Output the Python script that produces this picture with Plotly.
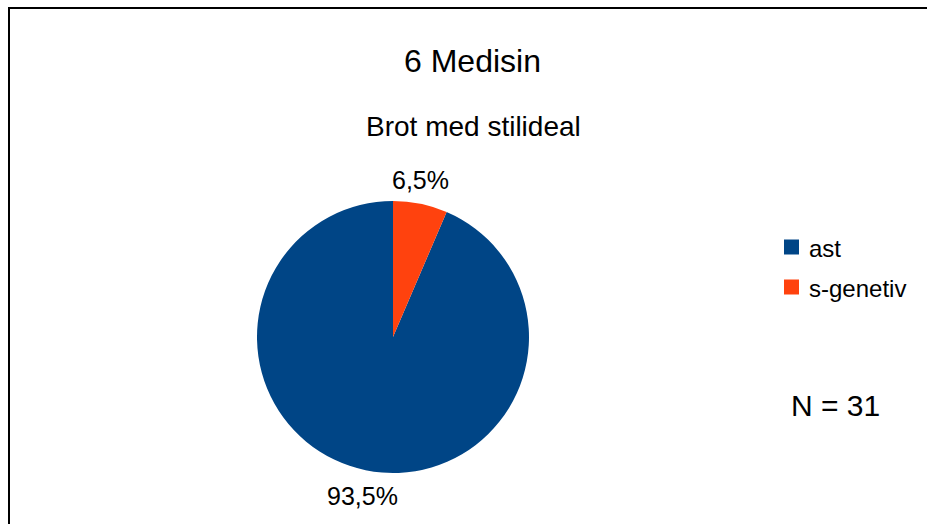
import math
import plotly.graph_objects as go

# Data
categories = ["ast", "s-genetiv"]
counts = [29, 2]
colors = ["#004586", "#ff420e"]
title_text = "6 Medisin"
subtitle_text = "Brot med stilideal"
n_text = "N = 31"

total = sum(counts)
pct_text = [f"{c / total * 100:.1f}".replace(".", ",") + "%" for c in counts]

W, H = 927, 524
FONT = "Liberation Sans, Arial, sans-serif"

# Pie geometry in pixels
CX, CY, R = 393, 337, 136

def px_x(x):
    return x / W

def px_y(y):
    return 1 - y / H

start_angle = 360 * counts[1] / total  # slice order starts clockwise from this angle (deg from 12 o'clock)

fig = go.Figure(
    go.Pie(
        labels=categories,
        values=counts,
        textinfo="none",
        marker=dict(colors=colors, line=dict(width=0)),
        sort=False,
        direction="clockwise",
        rotation=start_angle,
        hoverinfo="label+percent",
        showlegend=False,
        domain=dict(x=[px_x(CX - R), px_x(CX + R)], y=[px_y(CY + R), px_y(CY - R)]),
    )
)

annotations = [
    dict(text=title_text, x=px_x(472), y=px_y(61), font=dict(family=FONT, size=32)),
    dict(text=subtitle_text, x=px_x(473), y=px_y(126), font=dict(family=FONT, size=28)),
    dict(text=n_text, x=px_x(835), y=px_y(405), font=dict(family=FONT, size=30)),
]

# Percentage labels outside each slice, at the slice's mid-angle
angle = start_angle
for c, t in zip(counts, pct_text):
    sweep = 360 * c / total
    mid = math.radians(angle + sweep / 2)
    ex = CX + R * math.sin(mid)
    ey = CY - R * math.cos(mid)
    ey += -24 if math.cos(mid) > 0 else 26
    annotations.append(dict(text=t, x=px_x(ex - 3 if math.cos(mid) < 0 else ex), y=px_y(ey),
                            font=dict(family=FONT, size=25)))
    angle += sweep

# Legend: colour squares with category names
shapes = []
for i, (name, col) in enumerate(zip(categories, colors)):
    yc = 247 + 40 * i
    shapes.append(dict(type="rect", xref="paper", yref="paper",
                       x0=px_x(784), x1=px_x(799), y0=px_y(yc + 7.5), y1=px_y(yc - 7.5),
                       fillcolor=col, line=dict(width=0)))
    annotations.append(dict(text=name, x=px_x(807), y=px_y(yc + 1), xanchor="left",
                            font=dict(family=FONT, size=24)))

for a in annotations:
    a.setdefault("xref", "paper")
    a.setdefault("yref", "paper")
    a.setdefault("showarrow", False)
    a.setdefault("xanchor", "center")
    a.setdefault("yanchor", "middle")
    a["font"]["color"] = "#000000"

# Chart border
shapes.append(dict(type="rect", xref="paper", yref="paper",
                   x0=px_x(9), x1=px_x(960), y0=px_y(560), y1=px_y(8),
                   line=dict(color="#000000", width=2), fillcolor="rgba(0,0,0,0)"))

fig.update_layout(
    width=W,
    height=H,
    margin=dict(l=0, r=0, t=0, b=0),
    paper_bgcolor="#ffffff",
    plot_bgcolor="#ffffff",
    font=dict(family=FONT, color="#000000"),
    showlegend=False,
    annotations=annotations,
    shapes=shapes,
)

fig.write_html("out.html")
